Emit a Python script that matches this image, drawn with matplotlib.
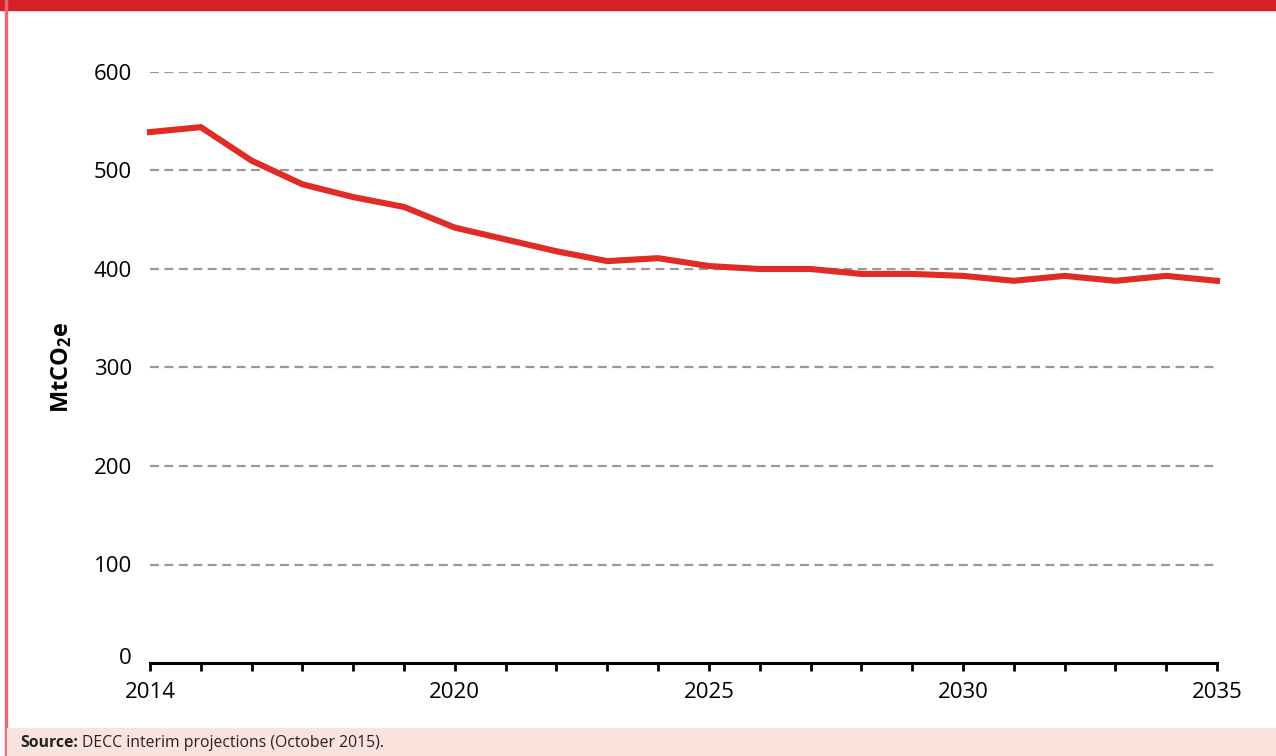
"""Projected emissions, 2014-2035"""

import matplotlib.pyplot as plt
from matplotlib.patches import Rectangle
from matplotlib.transforms import ScaledTranslation

years = list(range(2014, 2036))
emissions = [539, 544, 510, 486, 473, 463, 442, 430, 418, 408, 411,
             403, 400, 400, 395, 395, 393, 388, 393, 388, 393, 388]
labelled_years = [2014, 2020, 2025, 2030, 2035]
y_ticks = [0, 100, 200, 300, 400, 500, 600]

RED = '#e02b27'


def main():
    """Main function"""
    plt.rcParams['font.family'] = ['Open Sans', 'DejaVu Sans']
    plt.rcParams['mathtext.fontset'] = 'custom'
    plt.rcParams['mathtext.bf'] = 'Open Sans:bold'
    plt.rcParams['mathtext.rm'] = 'Open Sans'

    fig = plt.figure(figsize=(12.76, 7.56), dpi=100)
    W, H = 1276, 756

    # frame: top bar, left rule, footer band
    fig.patches.append(Rectangle((0, 1 - 10 / H), 1, 10 / H,
                                 transform=fig.transFigure, color='#d42027'))
    fig.patches.append(Rectangle((5 / W, 0), 2 / W, 1,
                                 transform=fig.transFigure, color='#e36a6e'))
    fig.patches.append(Rectangle((7 / W, 0), 1, 28 / H,
                                 transform=fig.transFigure, color='#f9e3dc'))
    fig.text(20 / W, 13 / H, 'Source:', fontsize=11.3, fontweight='bold',
             va='center', ha='left', color='#222222')
    fig.text(82 / W, 13 / H, 'DECC interim projections (October 2015).',
             fontsize=11.3, va='center', ha='left', color='#222222')

    ax = fig.add_axes([150 / W, 1 - 663 / H, (1217 - 150) / W, (663 - 72) / H])
    ax.plot(years, emissions, color=RED, linewidth=4.4, solid_joinstyle='miter',
            zorder=3, clip_on=False)

    ax.set_xlim(2014, 2035)
    ax.set_ylim(0, 600)

    for v in y_ticks[1:]:
        ax.axhline(v, color='#999999', linewidth=1.6, linestyle=(0, (4, 2.5)),
                   zorder=1)

    ax.set_yticks(y_ticks)
    ax.tick_params(axis='y', length=0, pad=13, labelsize=16)
    ax.set_xticks(years)
    ax.set_xticklabels([str(y) if y in labelled_years else '' for y in years])
    ax.tick_params(axis='x', length=6, width=2, direction='out', pad=8,
                   labelsize=16)

    # lift the "0" label off the axis line
    zero = ax.yaxis.get_major_ticks()[0].label1
    zero.set_transform(zero.get_transform()
                       + ScaledTranslation(0, 7 / 100, fig.dpi_scale_trans))

    for side in ['top', 'right', 'left']:
        ax.spines[side].set_visible(False)
    ax.spines['bottom'].set_linewidth(2.2)

    ax.set_ylabel(r'$\mathbf{MtCO_2e}$', fontsize=17)
    ax.yaxis.set_label_coords(-76 / (1217 - 150), 0.5)

    fig.savefig('out.png', dpi=100)


if __name__ == "__main__":
    main()
